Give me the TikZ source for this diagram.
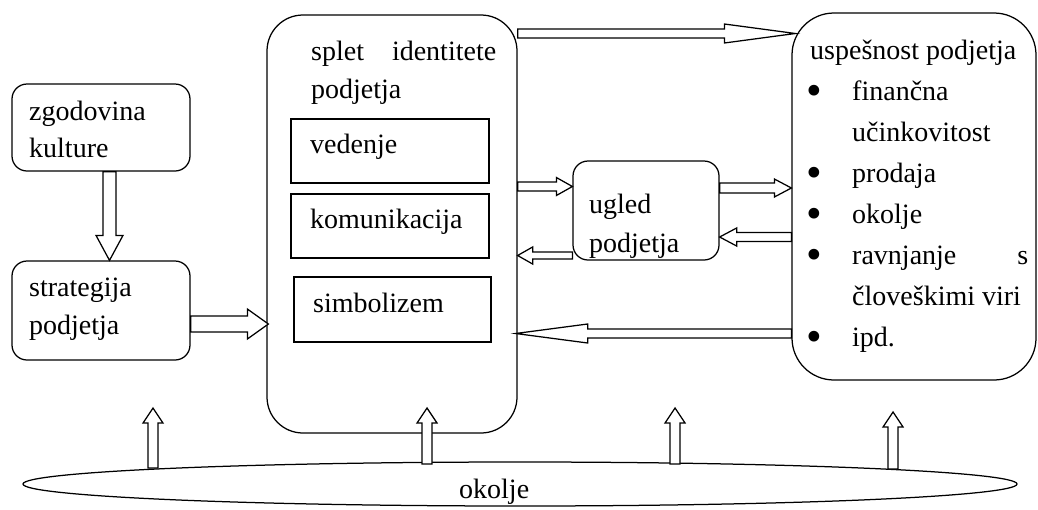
\documentclass[tikz,border=0pt]{standalone}
\usepackage{fontspec}
\setmainfont{Liberation Serif}
\usetikzlibrary{calc,shapes.geometric}
\tikzset{
  box/.style={draw, line width=1.25pt, inner sep=0pt},
  rbox/.style={box, rounded corners=#1},
  txt/.style={anchor=base west, inner sep=0pt, font=\fontsize{28}{34}\selectfont},
  bul/.style={anchor=base, inner sep=0pt, font=\fontsize{28}{34}\selectfont},
  barrow/.style={draw, fill=white, line width=1.25pt, line join=miter},
}
\newcommand\blockarr[5]{%
  \coordinate (baP) at ($(#2)!#5!(#1)$);
  \draw[barrow] ($(#1)!#3!90:(#2)$) -- ($(baP)!#3!90:(#2)$) -- ($(baP)!#4!90:(#2)$)
    -- (#2) -- ($(baP)!#4!-90:(#2)$) -- ($(baP)!#3!-90:(#2)$) -- ($(#1)!#3!-90:(#2)$) -- cycle;}
\newcommand\bigbul{\raisebox{-5pt}{\scalebox{1.6}{•}}}
\begin{document}
\begin{tikzpicture}[x=1pt,y=-1pt]
\useasboundingbox (0,0) rectangle (1038,509);
% boxes
\node[rbox=15pt, minimum width=178pt, minimum height=87pt] (zk) at (101,127.5) {};
\node[rbox=15pt, minimum width=178pt, minimum height=99pt] (sp) at (101,310.5) {};
\node[rbox=36pt, minimum width=250pt, minimum height=418pt] (big) at (392,224) {};
\node[box, minimum width=198pt, minimum height=64pt] (ved) at (390,151) {};
\node[box, minimum width=198pt, minimum height=64pt] (kom) at (390,226) {};
\node[box, minimum width=197pt, minimum height=65pt] (sim) at (392.5,309.5) {};
\node[rbox=15pt, minimum width=146pt, minimum height=99pt] (ug) at (646,210.5) {};
\node[rbox=42pt, minimum width=244pt, minimum height=367pt] (us) at (914,196.5) {};
\node[box, ellipse, minimum width=994pt, minimum height=44pt] (env) at (520,484) {};
% texts
\node[txt] (t-zk1) at (29,120) {zgodovina};
\node[txt] (t-zk2) at (29,157) {kulture};
\node[txt] (t-sp1) at (29,296) {strategija};
\node[txt] (t-sp2) at (29,334) {podjetja};
\node[txt] (t-big1) at (311,60) {\hbox to 185pt{splet\hfill identitete}};
\node[txt] (t-big2) at (311,98) {podjetja};
\node[txt] (t-ved) at (310,153) {vedenje};
\node[txt] (t-kom) at (310,228) {komunikacija};
\node[txt] (t-sim) at (313,312) {simbolizem};
\node[txt] (t-ug1) at (589,213) {ugled};
\node[txt] (t-ug2) at (589,252) {podjetja};
\node[txt] (t-us0) at (810,59) {uspešnost podjetja};
\node[bul] (b1) at (814,100) {\bigbul};
\node[txt] (t-us1) at (852,100) {finančna};
\node[txt] (t-us2) at (852,141) {učinkovitost};
\node[bul] (b2) at (814,182) {\bigbul};
\node[txt] (t-us3) at (852,182) {prodaja};
\node[bul] (b3) at (814,223) {\bigbul};
\node[txt] (t-us4) at (852,223) {okolje};
\node[bul] (b4) at (814,264) {\bigbul};
\node[txt] (t-us5) at (852,264) {\hbox to 176pt{ravnjanje\hfill s}};
\node[txt] (t-us6) at (852,305) {človeškimi viri};
\node[bul] (b5) at (814,346) {\bigbul};
\node[txt] (t-us7) at (852,346) {ipd.};
\node[txt] (t-env) at (459,498) {okolje};
% connector end points
\coordinate (a1s) at ($(zk.south)+(8.5,0)$);
\coordinate (a1e) at ($(sp.north)+(8.5,0)$);
\coordinate (a2s) at (sp.east |- 0,324);
\coordinate (a2e) at ($(big.west |- 0,324)+(2,0)$);
\coordinate (a3s) at (big.east |- 0,33.5);
\coordinate (a3e) at ($(us.west |- 0,33.5)+(4,0)$);
\coordinate (a4s) at (big.east |- 0,186.5);
\coordinate (a4e) at (ug.west |- 0,186.5);
\coordinate (a5s) at (ug.east |- 0,188);
\coordinate (a5e) at (us.west |- 0,188);
\coordinate (a6s) at (us.west |- 0,237);
\coordinate (a6e) at (ug.east |- 0,237);
\coordinate (a7s) at (ug.west |- 0,255.5);
\coordinate (a7e) at (big.east |- 0,255.5);
\coordinate (a8s) at (us.west |- 0,333.5);
\coordinate (a8e) at ($(big.east |- 0,333.5)+(-2,0)$);
\coordinate (e1) at (153,468); \coordinate (u1) at (153,408);
\coordinate (e2) at (427,464); \coordinate (u2) at (427,408);
\coordinate (e3) at (675,464); \coordinate (u3) at (675,408);
\coordinate (e4) at (893,469); \coordinate (u4) at (893,412);
% connectors
\blockarr{a1s}{a1e}{6.5pt}{13.5pt}{25pt}
\blockarr{a2s}{a2e}{8pt}{15pt}{21pt}
\blockarr{a3s}{a3e}{4.5pt}{9.5pt}{71pt}
\blockarr{a4s}{a4e}{4.5pt}{9pt}{16pt}
\blockarr{a5s}{a5e}{5pt}{9pt}{17pt}
\blockarr{a6s}{a6e}{4.5pt}{9pt}{17pt}
\blockarr{a7s}{a7e}{3.5pt}{8.5pt}{15pt}
\blockarr{a8s}{a8e}{4.5pt}{9.5pt}{72pt}
\blockarr{e1}{u1}{5pt}{10pt}{15pt}
\blockarr{e2}{u2}{5pt}{10pt}{15pt}
\blockarr{e3}{u3}{5pt}{10pt}{15pt}
\blockarr{e4}{u4}{5pt}{10pt}{15pt}
\end{tikzpicture}
\end{document}
